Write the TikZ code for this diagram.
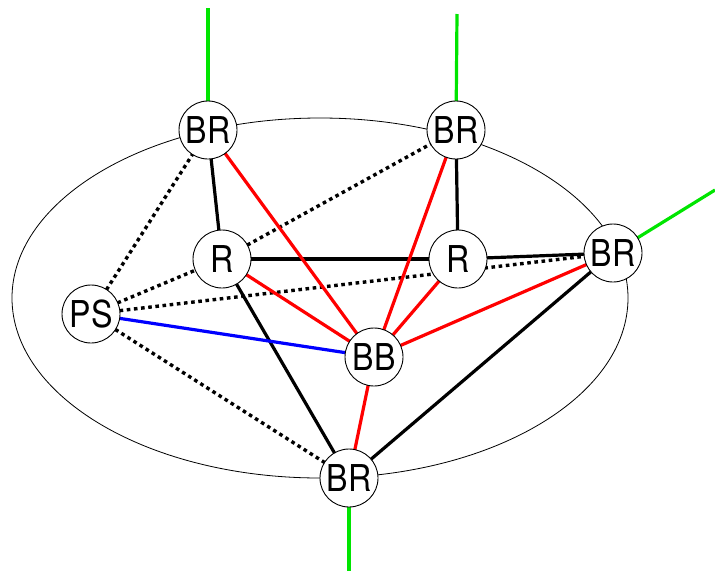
\documentclass[tikz,border=0pt]{standalone}
\usepackage{fontspec}
\usepackage{graphicx}
\setmainfont{TeX Gyre Heros}
\newcommand{\narrowtxt}[1]{\scalebox{0.87}[1]{#1}}
\begin{document}
\begin{tikzpicture}[x=1pt,y=-1pt,
  nd/.style={circle,draw=black,line width=0.9pt,fill=white,minimum size=58pt,inner sep=0pt,font=\fontsize{37}{37}\selectfont},
  blk/.style={line width=3.2pt,black},
  rd/.style={line width=3.2pt,red},
  bl/.style={line width=3.2pt,blue},
  dt/.style={line width=3.4pt,black,dash pattern=on 3.6pt off 3.6pt},
  gr/.style={line width=3.2pt,green!90!black},
]
\useasboundingbox (0,0) rectangle (715,571);
\draw[line width=0.8pt] (320,298) ellipse [x radius=308, y radius=180];
\coordinate (BR) at (613,253);
\coordinate (tl) at (208,130);
\coordinate (tr) at (456,130);
\coordinate (rl) at (222,259);
\coordinate (rr) at (458,259);
\coordinate (ps) at (91,314);
\coordinate (bb) at (374,357);
\coordinate (bo) at (349,478);
% free ends of green lines
\coordinate (gtl) at (208,8);
\coordinate (gtr) at (457,14);
\coordinate (gr) at (715,190);
\coordinate (gbo) at (349,571);
\draw[gr] (tl) -- (gtl);
\draw[gr] (tr) -- (gtr);
\draw[gr] (BR) -- (gr);
\draw[gr] (bo) -- (gbo);
% dotted
\draw[dt] (ps) -- (tl);
\draw[dt] (ps) -- (rl);
\draw[dt] (ps) -- (BR);
\draw[dt] (ps) -- (bo);
\draw[dt] (rl) -- (tr);
% black
\draw[blk] (tl) -- (rl);
\draw[blk] (tr) -- (rr);
\draw[blk] (rl) -- (rr);
\draw[blk] (rr) -- (BR);
\draw[blk] (rl) -- (bo);
\draw[blk] (bo) -- (BR);
% red
\draw[rd] (tl) -- (bb);
\draw[rd] (tr) -- (bb);
\draw[rd] (rl) -- (bb);
\draw[rd] (rr) -- (bb);
\draw[rd] (BR) -- (bb);
\draw[rd] (bb) -- (bo);
% blue
\draw[bl] (ps) -- (bb);
% nodes
\node[nd] (nBRtl) at (tl) {\narrowtxt{BR}};
\node[nd] (nBRtr) at (tr) {\narrowtxt{BR}};
\node[nd] (nBRr) at (BR) {\narrowtxt{BR}};
\node[nd] (nBRb) at (bo) {\narrowtxt{BR}};
\node[nd] (nRl) at (rl) {\narrowtxt{R}};
\node[nd] (nRr) at (rr) {\narrowtxt{R}};
\node[nd] (nPS) at (ps) {\narrowtxt{PS}};
\node[nd] (nBB) at (bb) {\narrowtxt{BB}};
\end{tikzpicture}
\end{document}
